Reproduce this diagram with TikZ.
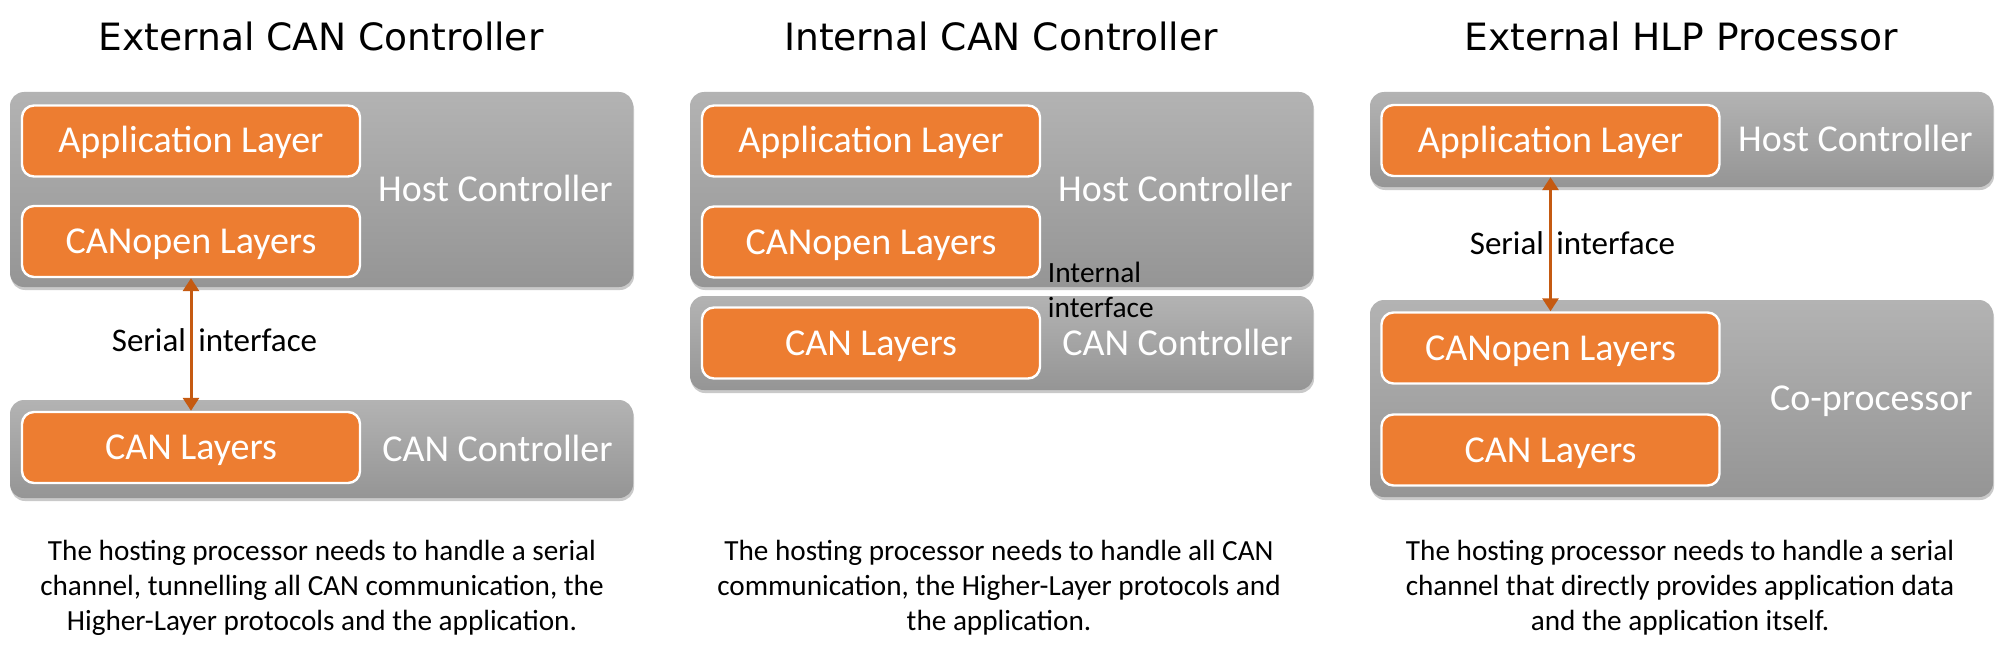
\documentclass[tikz,border=0pt]{standalone}
\usepackage{fontspec}
\setmainfont{Carlito}
\newfontfamily\titlefont{DejaVu Sans}
\usetikzlibrary{arrows.meta,shadows}
\definecolor{orng}{HTML}{ED7D31}
\definecolor{arrowc}{HTML}{C55A11}
\definecolor{gtop}{HTML}{B3B3B3}
\definecolor{gbot}{HTML}{959595}
\begin{document}
\begin{tikzpicture}[x=0.5pt,y=-0.5pt,
  graybox/.style={rounded corners=7pt, top color=gtop, bottom color=gbot, draw=none,
    minimum width=311.5pt, inner sep=0pt,
    drop shadow={shadow xshift=0.5pt,shadow yshift=-1.5pt,opacity=0.3,fill=black!70}},
  layer/.style={rounded corners=6pt, fill=orng, draw=white, line width=1.2pt,
    minimum width=169pt, minimum height=35.5pt, inner sep=0pt, text=white,
    font=\fontsize{19}{22}\selectfont, text height=12pt, text depth=0pt},
  boxlabel/.style={anchor=east, inner sep=0pt, text=white,
    font=\fontsize{19}{22}\selectfont, text height=12pt, text depth=0pt},
  ifacelabel/.style={inner sep=0pt, text=black,
    font=\fontsize{16.5}{20}\selectfont, text height=10.4pt, text depth=0pt},
  paneltitle/.style={anchor=base, inner sep=0pt, font=\titlefont\fontsize{18.8}{22}\selectfont},
  caption/.style={anchor=north, inner sep=0pt, align=center,
    font=\fontsize{14.6}{17.5}\selectfont},
  iarrow/.style={draw=arrowc, line width=1.5pt,
    {Triangle[width=8pt,length=6.5pt]}-{Triangle[width=8pt,length=6.5pt]}}
]
\useasboundingbox (0,0) rectangle (2013,658);

% ---------- Titles ----------
\node[paneltitle] (tA) at (321,51) {External CAN Controller};
\node[paneltitle] (tB) at (1001,51) {Internal CAN Controller};
\node[paneltitle] (tC) at (1681,51) {External HLP Processor};

% ---------- Panel A ----------
\node[graybox, minimum height=97.5pt] (A-host) at (321.5,189.5) {};
\node[graybox, minimum height=49pt] (A-ctl) at (321.5,449) {};
\node[layer] (A-app) at (191,141) {Application Layer};
\node[layer] (A-canopen) at (191,241.5) {CANopen Layers};
\node[layer] (A-can) at (191,447.5) {CAN Layers};
\node[boxlabel] (A-hostlbl) at (613,189.5) {Host Controller};
\node[boxlabel] (A-ctllbl) at (613,449) {CAN Controller};
\draw[iarrow] (A-canopen.south) -- (A-can.north);
\node[ifacelabel] (A-ser) at (214.5,341) {Serial\hspace{0.15em} interface};

% ---------- Panel B ----------
\node[graybox, minimum height=97.5pt] (B-host) at (1001.5,189.5) {};
\node[graybox, minimum height=47pt] (B-ctl) at (1001.5,343) {};
\node[layer] (B-app) at (871,141) {Application Layer};
\node[layer] (B-canopen) at (871,242) {CANopen Layers};
\node[layer] (B-can) at (871,343) {CAN Layers};
\node[boxlabel] (B-hostlbl) at (1293,189.5) {Host Controller};
\node[boxlabel] (B-ctllbl) at (1293,343) {CAN Controller};
\node[inner sep=0pt, anchor=north west, align=left, font=\fontsize{14.7}{17.5}\selectfont]
  (B-int) at (1047.5,261.5) {Internal\\interface};

% ---------- Panel C ----------
\node[graybox, minimum height=47.5pt] (C-host) at (1681.5,139.5) {};
\node[graybox, minimum height=98.5pt] (C-co) at (1681.5,398.5) {};
\node[layer] (C-app) at (1550.5,140.5) {Application Layer};
\node[layer] (C-canopen) at (1550.5,348) {CANopen Layers};
\node[layer] (C-can) at (1550.5,450) {CAN Layers};
\node[boxlabel] (C-hostlbl) at (1973,139.5) {Host Controller};
\node[boxlabel] (C-colbl) at (1973,398.5) {Co-processor};
\draw[iarrow] (C-app.south) -- (C-canopen.north);
\node[ifacelabel] (C-ser) at (1572.5,244) {Serial\hspace{0.15em} interface};

% ---------- Captions ----------
\node[caption] (A-cap) at (322,539.5) {The hosting processor needs to handle a serial\\channel, tunnelling all CAN communication, the\\Higher-Layer protocols and the application.};
\node[caption] (B-cap) at (999,539.5) {The hosting processor needs to handle all CAN\\communication, the Higher-Layer protocols and\\the application.};
\node[caption] (C-cap) at (1680,539.5) {The hosting processor needs to handle a serial\\channel that directly provides application data\\and the application itself.};
\end{tikzpicture}
\end{document}
